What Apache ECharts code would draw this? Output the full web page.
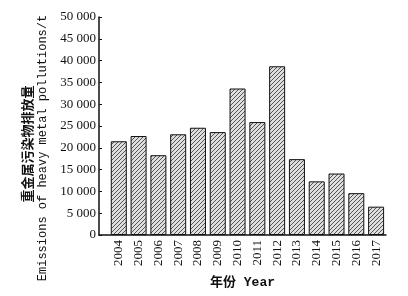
<!DOCTYPE html>
<html>
<head>
<meta charset="utf-8">
<script src="https://cdn.jsdelivr.net/npm/echarts@6/dist/echarts.min.js"></script>
<style>
html, body { margin: 0; padding: 0; background: #fff; }
#chart { width: 408px; height: 296px; }
</style>
</head>
<body>
<div id="chart"></div>
<script>
// 年份与排放量 (t)
var years = ['2004', '2005', '2006', '2007', '2008', '2009', '2010', '2011', '2012', '2013', '2014', '2015', '2016', '2017'];
var emissions = [21500, 22700, 18300, 23100, 24600, 23600, 33600, 25900, 38700, 17400, 12300, 14100, 9600, 6500];
var yTicks = [0, 5000, 10000, 15000, 20000, 25000, 30000, 35000, 40000, 45000, 50000];

// 斜线填充
function makeHatch() {
    var c = document.createElement('canvas');
    c.width = 4;
    c.height = 4;
    var ctx = c.getContext('2d');
    ctx.fillStyle = '#dedede';
    ctx.fillRect(0, 0, 4, 4);
    ctx.fillStyle = '#555';
    for (var i = 0; i < 4; i++) {
        ctx.fillRect(i, 3 - i, 1, 1);
    }
    return c;
}

var fmt = function (v) {
    return String(v).replace(/\B(?=(\d{3})+(?!\d))/g, ' ');
};

var myChart = echarts.init(document.getElementById('chart'));

myChart.setOption({
    animation: false,
    backgroundColor: '#fff',
    grid: {
        left: 99,
        right: 22,
        top: 17,
        bottom: 61,
        outerBoundsMode: 'none'
    },
    xAxis: {
        type: 'value',
        min: 2003,
        max: 2017.5,
        interval: 1,
        splitLine: { show: false },
        axisTick: { show: false },
        axisLine: { show: true, lineStyle: { color: '#111', width: 1.5 } },
        axisLabel: {
            rotate: 90,
            margin: 5,
            color: '#111',
            fontFamily: 'Liberation Serif',
            fontSize: 13,
            formatter: function (v) {
                return years.indexOf(String(v)) >= 0 ? String(v) : '';
            }
        },
        name: '年份 Year',
        nameLocation: 'middle',
        nameGap: 41,
        nameTextStyle: {
            color: '#111',
            fontFamily: 'Liberation Mono, Noto Sans CJK SC',
            fontWeight: 'bold',
            fontSize: 13
        }
    },
    yAxis: [{
        type: 'value',
        min: yTicks[0],
        max: yTicks[yTicks.length - 1],
        interval: 5000,
        splitLine: { show: false },
        axisLine: { show: true, lineStyle: { color: '#111', width: 1.5 } },
        axisTick: { show: true, inside: true, length: 3, lineStyle: { color: '#111' } },
        axisLabel: {
            margin: 3,
            color: '#111',
            fontFamily: 'Liberation Serif',
            fontSize: 13,
            formatter: fmt
        },
        name: 'Emissions of heavy metal pollutions/t',
        nameLocation: 'middle',
        nameRotate: 90,
        nameGap: 50,
        nameTextStyle: {
            color: '#111',
            fontFamily: 'Liberation Mono',
            fontSize: 12,
            padding: [0, 44, 0, 0]
        }
    }, {
        // 中文轴名
        type: 'value',
        min: yTicks[0],
        max: yTicks[yTicks.length - 1],
        interval: 5000,
        position: 'left',
        splitLine: { show: false },
        axisLine: { show: false },
        axisTick: { show: false },
        axisLabel: { show: false },
        name: '重金属污染物排放量',
        nameLocation: 'middle',
        nameRotate: 90,
        nameGap: 65,
        nameTextStyle: {
            color: '#111',
            fontFamily: 'Noto Sans CJK SC',
            fontWeight: 'bold',
            fontSize: 13,
            padding: [0, 36, 0, 0]
        }
    }],
    series: [{
        type: 'bar',
        barWidth: 16,
        data: years.map(function (y, i) {
            return [Number(y), emissions[i]];
        }),
        itemStyle: {
            color: { image: makeHatch(), repeat: 'repeat' },
            borderColor: '#111',
            borderWidth: 1
        }
    }]
});
</script>
</body>
</html>
